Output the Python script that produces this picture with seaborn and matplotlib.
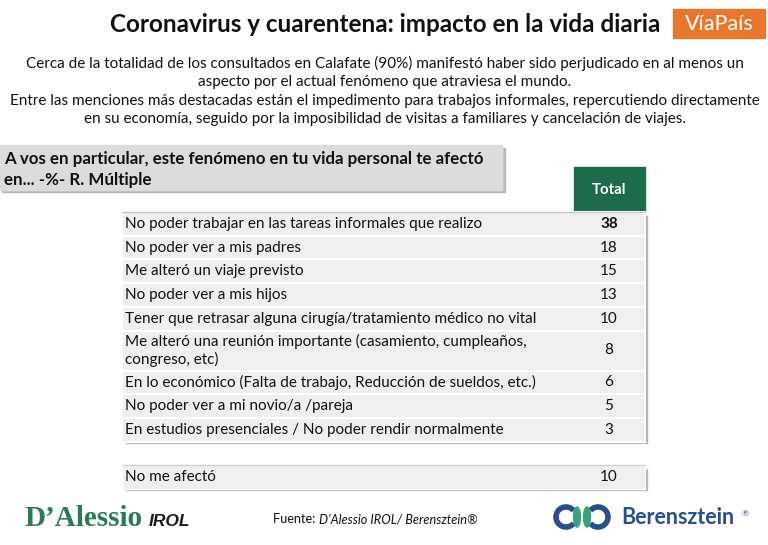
import numpy as np
import matplotlib.pyplot as plt
import seaborn as sns
from matplotlib.patches import Rectangle, Ellipse, Arc

sns.set_theme(style="white")
plt.rcParams['font.family'] = ['Lato', 'DejaVu Sans']

# datos de la tabla
respuestas = [
    "No poder trabajar en las tareas informales que realizo",
    "No poder ver a mis padres",
    "Me alteró un viaje previsto",
    "No poder ver a mis hijos",
    "Tener que retrasar alguna cirugía/tratamiento médico no vital",
    "Me alteró una reunión importante (casamiento, cumpleaños,\ncongreso, etc)",
    "En lo económico (Falta de trabajo, Reducción de sueldos, etc.)",
    "No poder ver a mi novio/a /pareja",
    "En estudios presenciales / No poder rendir normalmente",
]
totales = [38, 18, 15, 13, 10, 8, 6, 5, 3]
resp_extra = ["No me afectó"]
total_extra = [10]

titulo = "Coronavirus y cuarentena: impacto en la vida diaria"
bajada = ("Cerca de la totalidad de los consultados en Calafate (90%) manifestó haber sido perjudicado en al menos un\n"
          "aspecto por el actual fenómeno que atraviesa el mundo.\n"
          "Entre las menciones más destacadas están el impedimento para trabajos informales, repercutiendo directamente\n"
          "en su economía, seguido por la imposibilidad de visitas a familiares y cancelación de viajes.")
pregunta = "A vos en particular, este fenómeno en tu vida personal te afectó\nen... -%- R. Múltiple"

VERDE = "#1e6b4b"
GRIS_FILA = "#efefef"
FS = 11.0

fig = plt.figure(figsize=(7.68, 5.45), dpi=100)
ax = fig.add_axes([0, 0, 1, 1])
ax.set_xlim(0, 768)
ax.set_ylim(545, 0)
ax.axis("off")

# titulo y logo ViaPais
ax.text(385, 24, titulo, ha="center", va="center", fontsize=17.5, fontweight="bold", color="#111111")
ax.add_patch(Rectangle((673, 9), 92, 29, color="#e8772e"))
ax.text(719, 24, "VíaPaís", ha="center", va="center", fontsize=15.5, color="white")

ax.text(385, 91, bajada, ha="center", va="center", fontsize=FS, color="#111111", linespacing=1.38)

# caja de la pregunta
ax.add_patch(Rectangle((2, 148), 503, 44, color="#9a9a9a", alpha=0.6))
ax.add_patch(Rectangle((0, 145), 502, 45, color="#dcdcdc"))
ax.text(4, 169.5, pregunta, ha="left", va="center", fontsize=12.2, fontweight="bold",
        color="#111111", linespacing=1.42)

# encabezado Total
x0, x1 = 122, 645
ax.add_patch(Rectangle((574, 167), 71, 45, color=VERDE))
ax.text(609, 190, "Total", ha="center", va="center", fontsize=10.8, fontweight="bold", color="white")

# filas: altura segun cantidad de renglones
alto = np.array([23.7 if "\n" not in r else 40 for r in respuestas])
tops = 212 + np.concatenate([[0], np.cumsum(alto)[:-1]])
centros = tops + alto / 2
fondo = tops[-1] + alto[-1]

ax.barh(fondo / 2 + 212 / 2 + 2.5, x1 - x0, height=fondo - 212, left=x0 + 2.5,
        color="#8c8c8c", alpha=0.7)
ax.barh(centros, x1 - x0, height=alto, left=x0, color=GRIS_FILA, edgecolor="white", linewidth=1.5)
ax.plot([x0, x1], [212, 212], color="#c8c8c8", lw=1)
for i, (r, v) in enumerate(zip(respuestas, totales)):
    ax.text(x0 + 3, centros[i], r, ha="left", va="center", fontsize=FS, color="#111111", linespacing=1.25)
    ax.text(609, centros[i], str(v), ha="center", va="center", fontsize=FS,
            fontweight="bold" if i == 0 else "normal", color="#111111")

# fila aparte
c_extra = 477
ax.barh(c_extra + 2.5, x1 - x0, height=23.7, left=x0 + 2.5, color="#8c8c8c", alpha=0.7)
ax.barh(c_extra, x1 - x0, height=23.7, left=x0, color=GRIS_FILA)
ax.plot([x0, x1], [c_extra - 11.85, c_extra - 11.85], color="#d0d0d0", lw=1)
ax.text(x0 + 3, c_extra, resp_extra[0], ha="left", va="center", fontsize=FS, color="#111111")
ax.text(609, c_extra, str(total_extra[0]), ha="center", va="center", fontsize=FS, color="#111111")

# pie
ax.text(24, 518, "D\u2019Alessio", ha="left", va="center", fontsize=21, fontweight="bold",
        family="Liberation Serif", color="#2b7a52")
ax.text(149, 521, "IROL", ha="left", va="center", fontsize=12.5, fontweight="bold",
        style="italic", family="Liberation Sans", color="#1a1a1a")
ax.text(273, 519, "Fuente: ", ha="left", va="center", fontsize=9.2, color="#111111")
ax.text(319, 519, "D\u2019Alessio IROL/ Berensztein\u00ae", ha="left", va="center", fontsize=9.2,
        style="italic", color="#111111")

# logo Berensztein
azul = "#2a4f8c"
ax.add_patch(Arc((566, 517), 20, 20, theta1=40, theta2=320, lw=4, color=azul))
ax.add_patch(Arc((598, 517), 20, 20, theta1=220, theta2=500, lw=4, color=azul))
ax.add_patch(Ellipse((577, 517), 7, 20, color="#3aa37a"))
ax.add_patch(Ellipse((587, 517), 7, 20, color="#3aa37a"))
ax.text(621, 517, "Berensztein", ha="left", va="center", fontsize=15.5, fontweight="bold", color=azul)
ax.text(742, 514, "\u00ae", ha="left", va="center", fontsize=6, color=azul)

fig.savefig("out.png", dpi=100, facecolor="white")
